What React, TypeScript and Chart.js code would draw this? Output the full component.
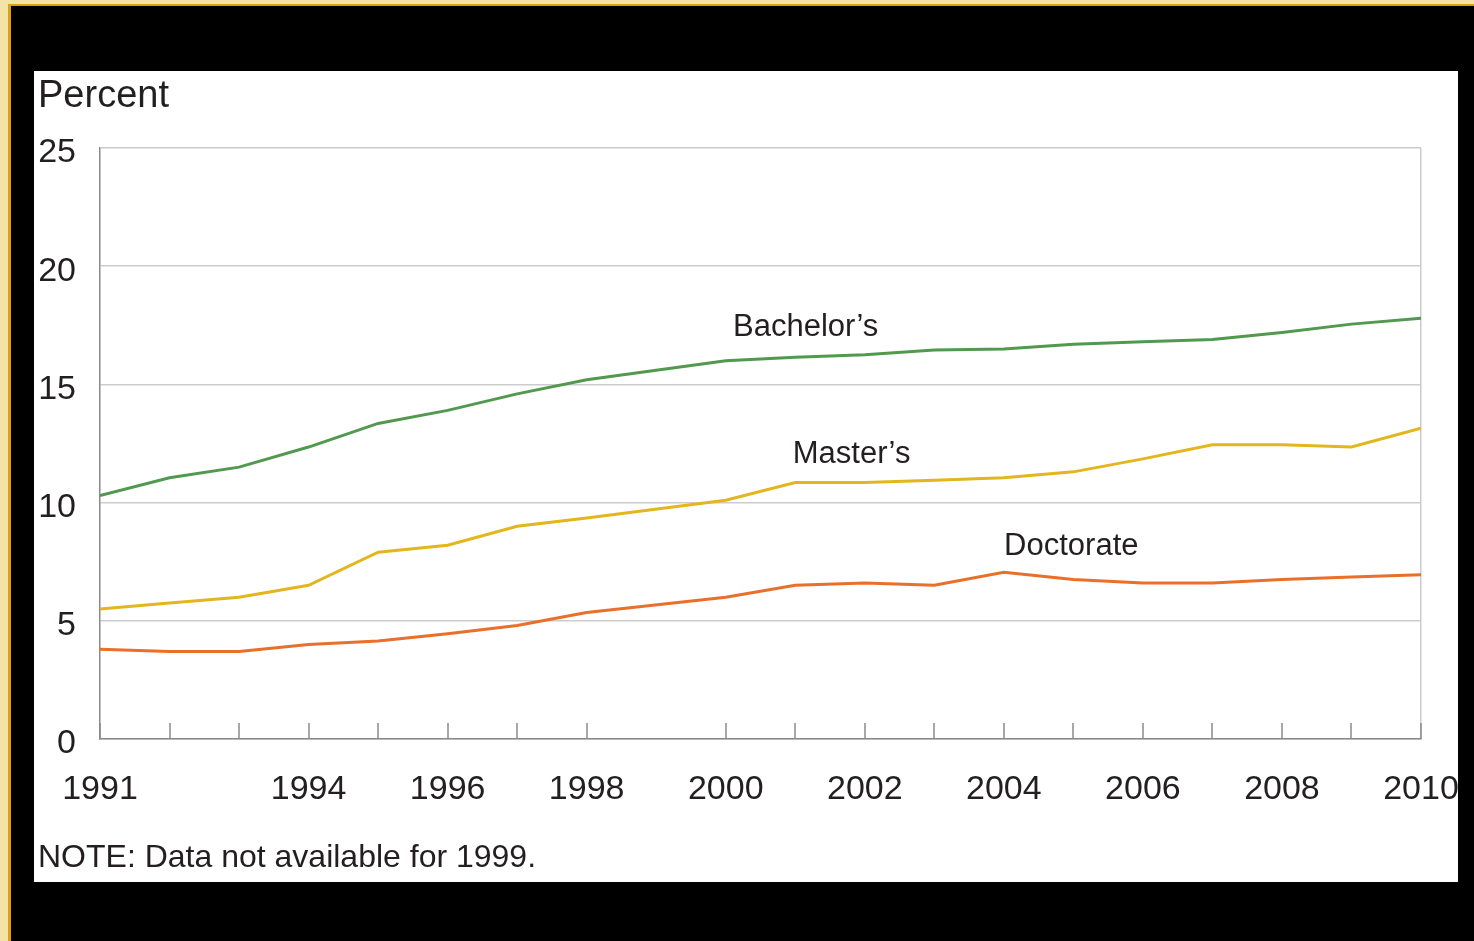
import React, { useEffect, useRef } from 'react';
import { Chart, registerables } from 'chart.js';

Chart.register(...registerables);

// Years with data (no data for 1999)
const years = [1991, 1992, 1993, 1994, 1995, 1996, 1997, 1998, 2000, 2001, 2002, 2003, 2004, 2005, 2006, 2007, 2008, 2009, 2010];
const labelYears = [1991, 1994, 1996, 1998, 2000, 2002, 2004, 2006, 2008, 2010];
const yTickValues = [0, 5, 10, 15, 20, 25];

const bachelors = [10.3, 11.05, 11.5, 12.35, 13.35, 13.9, 14.6, 15.2, 16.0, 16.15, 16.25, 16.45, 16.5, 16.7, 16.8, 16.9, 17.2, 17.55, 17.8];
const masters = [5.5, 5.75, 6.0, 6.5, 7.9, 8.2, 9.0, 9.35, 10.1, 10.85, 10.85, 10.95, 11.05, 11.3, 11.85, 12.45, 12.45, 12.35, 13.15];
const doctorate = [3.8, 3.7, 3.7, 4.0, 4.15, 4.45, 4.8, 5.35, 6.0, 6.5, 6.6, 6.5, 7.05, 6.75, 6.6, 6.6, 6.75, 6.85, 6.95];

const seriesNames = ['Bachelor’s', 'Master’s', 'Doctorate'];
const seriesValues = [bachelors, masters, doctorate];
const seriesColors = ['#51994f', '#e2b61c', '#e96f2a'];
// label anchor points in data coordinates (year, percent) for the in-chart series labels
const labelAnchorYears = [2001.15, 2001.81, 2004.97];
const labelAnchorValues = [17.05, 11.66, 7.78];

const yTitle = 'Percent';
const noteText = 'NOTE: Data not available for 1999.';

const FONT = '"Liberation Sans", Arial, sans-serif';
const TEXT = '#231f20';

const overlayPlugin = {
  id: 'overlay',
  afterDatasetsDraw(chart: any) {
    const { ctx, chartArea } = chart;
    const x = chart.scales.x;
    const y = chart.scales.y;
    ctx.save();
    // inward tick marks at each data year
    ctx.strokeStyle = '#8a8a8a';
    ctx.lineWidth = 1.5;
    years.forEach((yr) => {
      const px = Math.round(x.getPixelForValue(yr));
      ctx.beginPath();
      ctx.moveTo(px, chartArea.bottom);
      ctx.lineTo(px, chartArea.bottom - 16);
      ctx.stroke();
    });
    // series labels
    ctx.font = `31px ${FONT}`;
    ctx.fillStyle = TEXT;
    ctx.textAlign = 'center';
    ctx.textBaseline = 'alphabetic';
    seriesNames.forEach((n, i) => {
      ctx.fillText(n, x.getPixelForValue(labelAnchorYears[i]), y.getPixelForValue(labelAnchorValues[i]));
    });
    ctx.restore();
  },
};

function LineChart() {
  const ref = useRef<HTMLCanvasElement | null>(null);
  useEffect(() => {
    if (!ref.current) return;
    const chart = new Chart(ref.current, {
      type: 'line',
      data: {
        datasets: seriesNames.map((name, i) => ({
          label: name,
          data: years.map((yr, j) => ({ x: yr, y: seriesValues[i][j] })),
          borderColor: seriesColors[i],
          backgroundColor: seriesColors[i],
          borderWidth: 3,
          pointRadius: 0,
          tension: 0,
          fill: false,
        })),
      },
      options: {
        responsive: false,
        maintainAspectRatio: false,
        devicePixelRatio: 1,
        animation: false,
        layout: { padding: { top: 77, right: 37, left: 0, bottom: 0 } },
        plugins: { legend: { display: false }, tooltip: { enabled: false } },
        scales: {
          x: {
            type: 'linear',
            min: 1991,
            max: 2010,
            afterBuildTicks: (scale: any) => {
              scale.ticks = labelYears.map((v) => ({ value: v }));
            },
            afterFit: (scale: any) => {
              scale.height = 143;
              scale.paddingLeft = 0;
              scale.paddingRight = 0;
            },
            grid: {
              drawTicks: false,
              lineWidth: 1.5,
              color: (c: any) => (c.tick && c.tick.value === 2010 ? '#cccccc' : 'rgba(0,0,0,0)'),
            },
            border: { display: true, color: '#8a8a8a', width: 1.5 },
            ticks: {
              autoSkip: false,
              maxRotation: 0,
              padding: 30,
              color: TEXT,
              font: { family: FONT, size: 34 },
              callback: (v: any) => String(v),
            },
          },
          y: {
            type: 'linear',
            min: 0,
            max: 25,
            afterBuildTicks: (scale: any) => {
              scale.ticks = yTickValues.map((v) => ({ value: v }));
            },
            afterFit: (scale: any) => {
              scale.width = 66;
              scale.paddingTop = 0;
              scale.paddingBottom = 0;
            },
            grid: { drawTicks: false, color: '#cccccc', lineWidth: 1.5 },
            border: { display: true, color: '#8a8a8a', width: 1.5 },
            ticks: {
              padding: 24,
              labelOffset: 5,
              color: TEXT,
              font: { family: FONT, size: 34 },
              callback: (v: any) => String(v),
            },
          },
        },
      },
      plugins: [overlayPlugin],
    } as any);
    return () => chart.destroy();
  }, []);
  return <canvas ref={ref} width={1424} height={811} style={{ position: 'absolute', left: 0, top: 0, width: 1424, height: 811 }} />;
}

export default function App() {
  return (
    <div style={{ position: 'fixed', left: 0, top: 0, width: 1474, height: 941, background: '#f3e3a6', overflow: 'hidden' }}>
      <div
        style={{
          position: 'absolute',
          left: 8,
          top: 4,
          right: 0,
          bottom: 0,
          background: '#000',
          borderLeft: '3px solid #dba20c',
          borderTop: '2px solid #dba20c',
        }}
      />
      <div style={{ position: 'absolute', left: 34, top: 71, width: 1424, height: 811, background: '#fff', overflow: 'hidden' }}>
        <LineChart />
        <div style={{ position: 'absolute', left: 4, top: 1, fontFamily: FONT, fontSize: 38, color: TEXT, lineHeight: '44px', whiteSpace: 'nowrap' }}>{yTitle}</div>
        <div style={{ position: 'absolute', left: 4, top: 766, fontFamily: FONT, fontSize: 32, color: TEXT, lineHeight: '38px', whiteSpace: 'nowrap' }}>{noteText}</div>
      </div>
    </div>
  );
}
